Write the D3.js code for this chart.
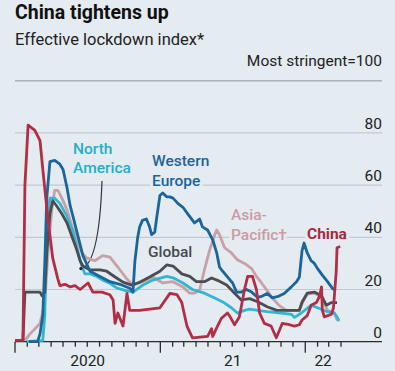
<html>
<head>
<style>
  body { margin: 0; background: #e4ebf1; }
  text { font-family: Roboto, sans-serif; }
</style>
</head>
<body>
<svg id="chart" width="395" height="371"></svg>
<script src="https://cdn.jsdelivr.net/npm/d3@7/dist/d3.min.js"></script>
<script>
// values: [date, index]
const china = [
  ["2020-01-01",0.5],["2020-01-21",0.5],["2020-01-26",60],["2020-02-03",83],["2020-02-20",81],
  ["2020-03-04",77],["2020-03-11",66],["2020-03-24",47],["2020-04-05",32],["2020-04-18",24],
  ["2020-04-23",21.5],["2020-05-06",22],["2020-05-19",21],["2020-05-31",21.5],["2020-06-13",20],
  ["2020-07-03",22.5],["2020-07-15",19],["2020-08-07",19],["2020-08-27",18],["2020-09-04",16],
  ["2020-09-09",7],["2020-09-16",11],["2020-09-29",6],["2020-10-09",18.5],["2020-10-16",12],
  ["2020-11-10",12],["2020-12-31",13],["2021-01-25",18.5],["2021-02-12",18],["2021-02-24",15],
  ["2021-03-09",6],["2021-03-23",1.5],["2021-04-30",2],["2021-05-10",5],["2021-05-13",2],
  ["2021-05-25",6],["2021-06-04",9],["2021-06-19",11],["2021-06-24",10],["2021-07-07",6.5],
  ["2021-07-19",9.5],["2021-08-01",20],["2021-08-09",25],["2021-08-21",25],["2021-08-31",20],
  ["2021-09-08",11],["2021-09-20",7],["2021-10-07",6],["2021-10-20",1.5],["2021-10-27",4],
  ["2021-11-04",7],["2021-11-22",6.5],["2021-12-05",6],["2021-12-17",6.5],["2021-12-24",8.3],
  ["2022-01-06",10],["2022-01-16",14],["2022-01-29",15],["2022-02-06",17.5],["2022-02-11",21],
  ["2022-02-13",12],["2022-02-18",9.5],["2022-03-08",10.5],["2022-03-13",13],["2022-03-20",27],
  ["2022-03-22",36],["2022-03-30",36.5]
]
const westernEurope = [
  ["2020-02-05",0],["2020-02-27",0],["2020-03-04",3],["2020-03-11",10],["2020-03-16",30],
  ["2020-03-21",55],["2020-03-29",69],["2020-04-10",69.5],["2020-04-23",68],["2020-05-01",66],
  ["2020-05-11",59],["2020-05-19",52],["2020-05-26",48],["2020-06-05",42],["2020-06-20",33],
  ["2020-07-08",27],["2020-08-02",25],["2020-08-27",23],["2020-09-21",22],["2020-10-16",20.5],
  ["2020-10-24",19],["2020-10-29",31],["2020-11-05",40],["2020-11-10",44],["2020-11-17",46.5],
  ["2020-11-27",47],["2020-12-05",44],["2020-12-10",41],["2020-12-18",42],["2020-12-23",47.7],
  ["2020-12-31",56],["2021-01-07",57],["2021-01-17",55.5],["2021-01-25",55.5],["2021-02-02",55],
  ["2021-02-14",53],["2021-02-27",51.5],["2021-03-11",49],["2021-03-28",45.5],["2021-04-10",47],
  ["2021-04-17",44],["2021-04-30",42.8],["2021-05-13",39],["2021-05-23",34],["2021-05-30",28.6],
  ["2021-06-07",27],["2021-06-19",24.8],["2021-07-02",22.5],["2021-07-12",19],["2021-07-24",19],
  ["2021-08-06",20],["2021-08-19",19],["2021-09-03",17],["2021-09-15",17.5],["2021-09-27",18.5],
  ["2021-10-10",16.8],["2021-10-27",17.5],["2021-11-09",18.5],["2021-11-27",21],["2021-12-10",23],
  ["2021-12-17",24.7],["2021-12-24",35],["2021-12-29",37.8],["2022-01-06",34],["2022-01-16",31],
  ["2022-01-24",30],["2022-02-01",28],["2022-02-13",25.5],["2022-02-26",23],["2022-03-10",20.5],
  ["2022-03-18",19.5]
]
const northAmerica = [
  ["2020-01-31",0],["2020-03-11",0.5],["2020-03-16",10],["2020-03-21",45],["2020-03-29",55],
  ["2020-04-10",55],["2020-04-23",53],["2020-05-11",48],["2020-05-24",43],["2020-06-05",36],
  ["2020-06-18",28.6],["2020-06-25",26],["2020-07-08",26],["2020-07-25",25],["2020-08-09",23.6],
  ["2020-08-27",22.4],["2020-09-14",20.5],["2020-10-09",19.5],["2020-10-24",19],["2020-11-17",21.6],
  ["2020-12-13",23.6],["2021-01-17",25],["2021-02-02",24.5],["2021-02-27",22.5],["2021-03-23",20],
  ["2021-04-22",18.6],["2021-05-18",16.7],["2021-06-12",14.8],["2021-06-29",13],["2021-07-14",11],
  ["2021-08-01",12],["2021-08-14",12.5],["2021-09-03",12],["2021-09-27",11.5],["2021-11-01",11],
  ["2021-11-27",10.5],["2021-12-05",9.3],["2021-12-22",11],["2022-01-16",14],["2022-02-01",13],
  ["2022-02-26",11.5],["2022-03-15",11],["2022-03-22",9.5],["2022-03-27",8]
]
const global = [
  ["2020-01-21",0.5],["2020-01-26",19],["2020-03-04",19],["2020-03-09",17.6],["2020-03-16",19],
  ["2020-03-21",34],["2020-03-29",49],["2020-04-05",54],["2020-04-15",52],["2020-04-28",49],
  ["2020-05-11",45.5],["2020-05-24",40],["2020-06-05",35],["2020-06-13",31],["2020-06-20",29],
  ["2020-07-08",27.5],["2020-08-02",27.5],["2020-08-19",27],["2020-09-09",24.8],["2020-09-29",22.8],
  ["2020-10-21",21.7],["2020-11-10",22.8],["2020-12-05",24.8],["2020-12-31",27],["2021-01-17",29.4],
  ["2021-02-02",29],["2021-02-24",26],["2021-03-16",25],["2021-04-02",23],["2021-04-22",23],
  ["2021-05-10",24.4],["2021-05-25",23.5],["2021-06-17",21.7],["2021-07-07",18.6],["2021-07-24",16],
  ["2021-08-14",16.5],["2021-09-03",15.3],["2021-09-27",13.4],["2021-10-20",12.1],["2021-11-09",12],
  ["2021-12-17",12],["2021-12-24",15.2],["2022-01-06",18.6],["2022-01-24",19],["2022-02-11",17.6],
  ["2022-02-23",14],["2022-03-08",15],["2022-03-22",15]
]
const asiaPacific = [
  ["2020-01-26",0.5],["2020-02-08",3],["2020-03-04",7],["2020-03-16",14.8],["2020-03-24",34],
  ["2020-04-03",51],["2020-04-10",58],["2020-04-18",58],["2020-04-28",55],["2020-05-11",50.5],
  ["2020-05-24",44],["2020-06-05",39],["2020-06-18",34],["2020-06-30",32],["2020-07-20",31],
  ["2020-08-09",33],["2020-08-27",32.4],["2020-09-14",29],["2020-10-09",24],["2020-10-24",21.7],
  ["2020-11-17",23],["2020-12-13",24.8],["2021-01-07",22.5],["2021-02-02",23],["2021-02-27",21],
  ["2021-03-16",18.6],["2021-03-28",18.6],["2021-04-10",19.8],["2021-04-22",27.5],["2021-05-05",35],
  ["2021-05-18",41],["2021-05-23",42.8],["2021-05-30",41],["2021-06-12",36],["2021-06-29",34],
  ["2021-07-14",31.4],["2021-08-01",30],["2021-08-19",28],["2021-08-31",25],["2021-09-13",22.5],
  ["2021-09-25",20],["2021-10-10",16.8],["2021-10-27",13.9],["2021-11-14",12],["2021-12-17",12],
  ["2021-12-24",14.6],["2022-01-06",18.2],["2022-01-24",18.6],["2022-02-11",17],["2022-02-26",12],
  ["2022-03-15",11],["2022-03-22",8.5],["2022-03-27",8]
]
const yTicks = [20, 40, 60, 80]
const yearLabels = [["2020-01-01","2021-01-01","2020"],["2021-01-01","2022-01-01","21"],["2022-01-01","2022-04-01","22"]]

const bg = "#e4ebf1"
const parse = d3.timeParse("%Y-%m-%d")
const svg = d3.select("#chart")

const x = d3.scaleTime()
  .domain([parse("2020-01-01"), parse("2022-04-01")])
  .range([15, 341])
const y = d3.scaleLinear().domain([0, 100]).range([341.7, 80.7])
const gridRight = 382

svg.append("rect").attr("width", 395).attr("height", 371).attr("fill", bg)

// titles
svg.append("text").attr("x", 15).attr("y", 18.5)
  .attr("font-size", 19.5).attr("font-weight", 700).attr("fill", "#111")
  .text("China tightens up")
svg.append("text").attr("x", 15).attr("y", 45)
  .attr("font-size", 16.5).attr("fill", "#222")
  .text("Effective lockdown index*")
svg.append("text").attr("x", gridRight).attr("y", 65.5).attr("text-anchor", "end")
  .attr("font-size", 15.5).attr("fill", "#222")
  .text("Most stringent=100")

// gridlines
svg.append("line").attr("x1", 15).attr("x2", gridRight)
  .attr("y1", y(100)).attr("y2", y(100))
  .attr("stroke", "#a9b2ba").attr("stroke-width", 1.5)
svg.selectAll(".grid").data(yTicks).enter().append("line")
  .attr("x1", 15).attr("x2", gridRight)
  .attr("y1", d => y(d)).attr("y2", d => y(d))
  .attr("stroke", "#c2cad1").attr("stroke-width", 1.2)
svg.selectAll(".ylab").data([0].concat(yTicks)).enter().append("text")
  .attr("x", gridRight).attr("y", d => y(d) - 4).attr("text-anchor", "end")
  .attr("font-size", 15.5).attr("fill", "#222")
  .text(d => d)

// series labels
const labels = [
  { lines: ["North", "America"], x: 73, y: 153.5, color: "#26aecb", weight: 500 },
  { lines: ["Western", "Europe"], x: 152, y: 166, color: "#1c659b", weight: 500 },
  { lines: ["Global"], x: 148, y: 257, color: "#45494e", weight: 500 },
  { lines: ["Asia-", "Pacific\u2020"], x: 231, y: 220, color: "#c89ca5", weight: 500 },
  { lines: ["China"], x: 307, y: 238.5, color: "#a9283f", weight: 700 }
]
function drawLabels(halo) {
  labels.forEach(l => {
    const t = svg.append("text").attr("x", l.x).attr("y", l.y)
      .attr("font-size", 15.5).attr("font-weight", l.weight)
    if (halo) {
      t.attr("fill", bg).attr("stroke", bg).attr("stroke-width", 6).attr("stroke-linejoin", "round")
    } else {
      t.attr("fill", l.color)
    }
    l.lines.forEach((s, i) => {
      t.append("tspan").attr("x", l.x).attr("dy", i === 0 ? 0 : 19.5).text(s)
    })
  })
}
drawLabels(true)

// x axis
const axisY = y(0)
svg.append("line").attr("x1", 15).attr("x2", gridRight)
  .attr("y1", axisY).attr("y2", axisY)
  .attr("stroke", "#2b2b2b").attr("stroke-width", 1.3)
const months = d3.timeMonth.range(parse("2020-01-01"), parse("2022-04-02"))
svg.selectAll(".tick").data(months).enter().append("line")
  .attr("x1", d => x(d)).attr("x2", d => x(d))
  .attr("y1", axisY)
  .attr("y2", d => axisY + (d.getMonth() === 0 ? 11 : 5))
  .attr("stroke", "#2b2b2b").attr("stroke-width", 1.3)
svg.selectAll(".xlab").data(yearLabels).enter().append("text")
  .attr("x", d => (x(parse(d[0])) + x(parse(d[1]))) / 2)
  .attr("y", 366).attr("text-anchor", "middle")
  .attr("font-size", 15.5).attr("fill", "#222")
  .text(d => d[2])

// leader line for North America
const leadEnd = [x(parse("2020-06-15")), y(28)]
svg.append("path")
  .attr("d", `M102,181 Q99,265 ${leadEnd[0]},${leadEnd[1]}`)
  .attr("fill", "none").attr("stroke", "#333").attr("stroke-width", 1.2)

// lines
const line = d3.line().x(d => x(parse(d[0]))).y(d => y(d[1]))
const series = [
  [asiaPacific, "#c9a0a8"],
  [northAmerica, "#33b6d2"],
  [global, "#4a4e53"],
  [westernEurope, "#1c659b"],
  [china, "#b22d46"]
]
series.forEach(s => {
  svg.append("path").attr("d", line(s[0]))
    .attr("fill", "none").attr("stroke", s[1])
    .attr("stroke-width", 2.8).attr("stroke-linejoin", "round")
})
svg.append("circle").attr("cx", leadEnd[0]).attr("cy", leadEnd[1]).attr("r", 1.6).attr("fill", "#222")

drawLabels(false)
</script>
</body>
</html>
